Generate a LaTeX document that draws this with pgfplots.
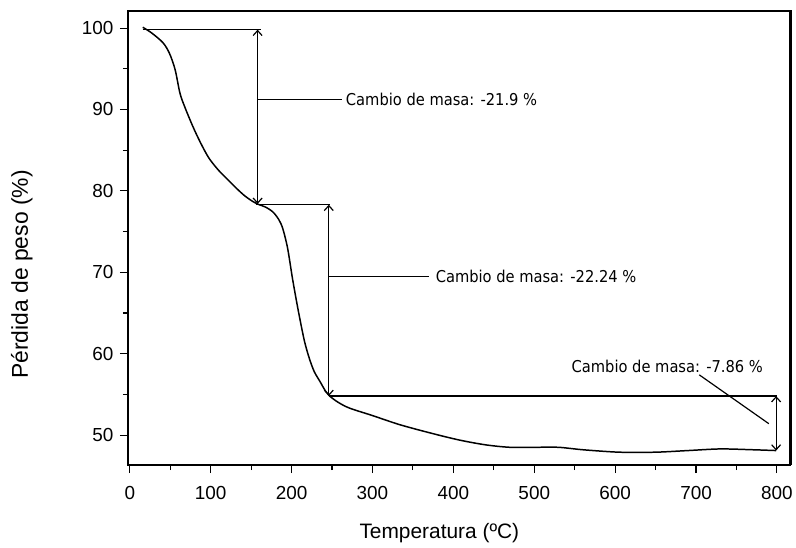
\documentclass[border=0pt]{standalone}
\usepackage{fontspec}
\setmainfont{Liberation Sans}
\newfontfamily\annfont{DejaVu Sans Condensed}
\usepackage{pgfplots}
\pgfplotsset{compat=1.18}
\usetikzlibrary{arrows.meta}
\begin{document}
\begin{tikzpicture}
\path (0,0) rectangle (796bp,548bp);
\begin{axis}[
  at={(128bp,537bp)}, anchor=north west,
  scale only axis, width=664bp, height=455bp,
  xmin=-2.5, xmax=817, ymin=46.3, ymax=102.1,
  xtick={0,100,...,800}, minor xtick={50,150,...,750},
  ytick={50,60,...,100}, minor ytick={55,65,...,95},
  xtick pos=bottom, ytick pos=left, tick align=outside,
  major tick length=8bp, minor tick length=5bp,
  every tick/.style={black, line width=1.1pt},
  axis line style={line width=1.6pt},
  /pgf/number format/assume math mode=true,
  tick label style={font=\fontsize{19}{22}\selectfont},
  xticklabel style={yshift=-10bp},
  yticklabel style={xshift=-3bp},
  xlabel={Temperatura (ºC)}, ylabel={Pérdida de peso (\%)},
  every axis x label/.style={at={(axis description cs:0.47,-0.149)}, anchor=center, font=\fontsize{21}{24}\selectfont},
  every axis y label/.style={at={(axis description cs:-0.16,0.42)}, rotate=90, anchor=center, font=\fontsize{23}{26}\selectfont},
  clip=false,
]
\draw[line width=2.8pt, black] (rel axis cs:0,1) -- (rel axis cs:1,1) -- (rel axis cs:1,0);
\addplot[black, line width=1.5pt, smooth, tension=0.5] coordinates {
(16,100.1) (27,99.4) (41,98.2) (49,96.9) (56,94.9) (62,92.0) (68,90.3) (78,87.9)
(88,85.8) (98,84.0) (110,82.5) (122,81.3) (132,80.3) (142,79.4) (152,78.7)
(160,78.3) (168,78.0) (177,77.4) (184,76.5) (189,75.4) (195,73) (201,69.3)
(206,66.5) (210,64.4) (216,61.5) (222,59.4) (228,57.8) (235,56.6) (242,55.4)
(247,54.8) (258,54.0) (272,53.3) (300,52.4) (333,51.3) (370,50.3) (407,49.4)
(440,48.8) (470,48.5) (500,48.5) (530,48.5) (560,48.2) (605,47.9) (650,47.9)
(690,48.1) (730,48.3) (770,48.2) (799,48.1)
};
% annotations
\draw[line width=1.2pt] (axis cs:16,99.8) -- (axis cs:162,99.8);
\draw[line width=1.2pt, {Straight Barb[length=5bp,width=9bp]}-{Straight Barb[length=5bp,width=9bp]}] (axis cs:158,99.8) -- (axis cs:158,78.4);
\draw[line width=1.2pt] (axis cs:158,91.2) -- (axis cs:262,91.2);
\node[anchor=west, inner sep=0pt, font=\annfont\fontsize{16.4}{18}\selectfont] at (axis cs:267,91.2) {Cambio de masa: -21.9 \%};

\draw[line width=1.2pt] (axis cs:156,78.3) -- (axis cs:247,78.3);
\draw[line width=1.2pt, {Straight Barb[length=5bp,width=9bp]}-{Straight Barb[length=5bp,width=9bp]}] (axis cs:246,78.3) -- (axis cs:246,54.8);
\draw[line width=1.2pt] (axis cs:246,69.5) -- (axis cs:370,69.5);
\node[anchor=west, inner sep=0pt, font=\annfont\fontsize{16.4}{18}\selectfont] at (axis cs:378,69.5) {Cambio de masa: -22.24 \%};

\draw[line width=1.1pt] (axis cs:246,54.8) -- (axis cs:800,54.8);
\draw[line width=1.2pt, {Straight Barb[length=5bp,width=9bp]}-{Straight Barb[length=5bp,width=9bp]}] (axis cs:799,54.8) -- (axis cs:799,48.1);
\draw[line width=1.2pt] (axis cs:704,57.4) -- (axis cs:790,51.4);
\node[anchor=west, inner sep=0pt, font=\annfont\fontsize{16.4}{18}\selectfont] at (axis cs:546,58.4) {Cambio de masa: -7.86 \%};
\end{axis}
\end{tikzpicture}
\end{document}
